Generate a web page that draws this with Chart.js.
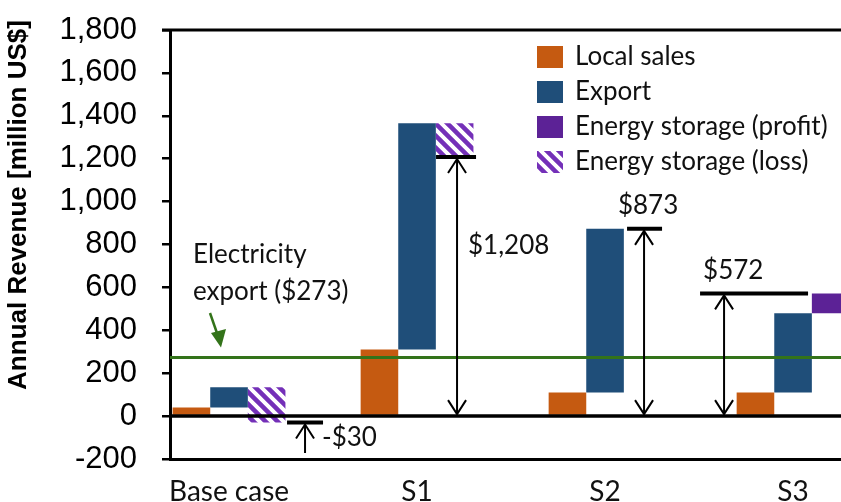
<!DOCTYPE html>
<html>
<head>
<meta charset="utf-8">
<script src="https://cdn.jsdelivr.net/npm/chart.js@4"></script>
<style>
  html, body { margin: 0; padding: 0; background: #fff; }
  #wrap { width: 841px; height: 502px; position: relative; overflow: hidden; }
</style>
</head>
<body>
<div id="wrap"><canvas id="revenueChart" width="841" height="502"></canvas></div>
<script>
// annual revenue, million US$ (waterfall steps per scenario)
const categories = ['Base case', 'S1', 'S2', 'S3'];
const localSales = [40, 310, 110, 110];
const exportRevenue = [95, 1055, 763, 370];
const storageResult = [-165, -157, 0, 92]; // + profit / - loss
const electricityExport = 273;
const yMin = -200, yMax = 1800, yStep = 200;

const totals = categories.map((_, i) => localSales[i] + exportRevenue[i] + storageResult[i]);

const COLORS = {
    local: '#C55A11',
    export: '#1F4E79',
    storage: '#5C2296',
    green: '#33731A'
};

function makeHatch(color) {
    const size = 12;
    const c = document.createElement('canvas');
    c.width = size; c.height = size;
    const g = c.getContext('2d');
    g.strokeStyle = color;
    g.lineWidth = 4.5;
    g.beginPath();
    for (let k = -1; k <= 1; k++) {
        g.moveTo(k * size - 2, -2);
        g.lineTo(k * size + size + 2, size + 2);
    }
    g.stroke();
    return g.createPattern(c, 'repeat');
}
const hatch = makeHatch('#7430B8');

// floating bars built from the step values
const localBars = localSales.map((v, i) => ({ x: i, y: [0, v] }));
const exportBars = exportRevenue.map((v, i) => ({ x: i, y: [localSales[i], localSales[i] + v] }));
function storageBars(sign) {
    const out = [];
    storageResult.forEach((v, i) => {
        if (v * sign <= 0) return;
        const base = localSales[i] + exportRevenue[i];
        out.push({ x: i, y: [base, base + v] });
    });
    return out;
}

// where the total markers sit around each group (pixel offsets from the category centre)
const markers = [
    { arrow: 76, capFrom: 58, capTo: 94, single: true, label: { dx: 93, dy: 15, align: 'left' } },
    { arrow: 40, capFrom: 19, capTo: 59, label: { dx: 51, dy: 89, align: 'left' } },
    { arrow: 39, capFrom: 22, capTo: 57, label: { dx: 43, dy: -23, align: 'center' } },
    { arrow: -69, capFrom: -93, capTo: 15, label: { dx: -90, dy: -23, align: 'left' } }
];

function fmtMoney(v) {
    return (v < 0 ? '-$' : '$') + Math.abs(v).toLocaleString('en-US');
}

function head(ctx, x, y, dir) {
    // dir = 1 -> pointing up, -1 -> pointing down
    ctx.beginPath();
    ctx.moveTo(x - 9, y + dir * 14);
    ctx.lineTo(x, y);
    ctx.lineTo(x + 9, y + dir * 14);
    ctx.stroke();
}

const overlayPlugin = {
    id: 'overlay',
    afterDatasetsDraw(chart) {
        const { ctx, chartArea: a, scales: { x, y } } = chart;
        ctx.save();
        // frame top
        ctx.strokeStyle = '#000';
        ctx.lineWidth = 3;
        ctx.beginPath();
        ctx.moveTo(a.left - 8, a.top);
        ctx.lineTo(a.right, a.top);
        ctx.stroke();
        // zero line
        ctx.lineWidth = 3.5;
        ctx.beginPath();
        ctx.moveTo(a.left, y.getPixelForValue(0));
        ctx.lineTo(a.right, y.getPixelForValue(0));
        ctx.stroke();
        // electricity export line
        const gy = y.getPixelForValue(electricityExport);
        ctx.strokeStyle = COLORS.green;
        ctx.lineWidth = 3;
        ctx.beginPath();
        ctx.moveTo(a.left, gy);
        ctx.lineTo(a.right, gy);
        ctx.stroke();
        // green pointer arrow
        ctx.lineWidth = 2.5;
        ctx.beginPath();
        ctx.moveTo(210, 313);
        ctx.lineTo(218, 336);
        ctx.stroke();
        ctx.fillStyle = COLORS.green;
        ctx.beginPath();
        ctx.moveTo(221, gy - 10);
        ctx.lineTo(211, 333);
        ctx.lineTo(226, 329);
        ctx.closePath();
        ctx.fill();

        ctx.fillStyle = '#111';
        ctx.font = '26px Lato';
        ctx.textBaseline = 'middle';
        ctx.textAlign = 'left';
        ctx.fillText('Electricity', 193, 255);
        ctx.fillText('export (' + fmtMoney(electricityExport) + ')', 193, 292);

        // total markers
        const zeroY = y.getPixelForValue(0);
        totals.forEach((t, i) => {
            const m = markers[i];
            const cx = x.getPixelForValue(i);
            const ty = y.getPixelForValue(t);
            ctx.strokeStyle = '#000';
            ctx.lineWidth = 4;
            ctx.beginPath();
            ctx.moveTo(cx + m.capFrom, ty);
            ctx.lineTo(cx + m.capTo, ty);
            ctx.stroke();
            ctx.lineWidth = 2;
            const ax = cx + m.arrow;
            if (m.single) {
                const by = y.getPixelForValue(yMin) - 6;
                ctx.beginPath();
                ctx.moveTo(ax, by);
                ctx.lineTo(ax, ty + 2);
                ctx.stroke();
                head(ctx, ax, ty + 2, 1);
            } else {
                ctx.beginPath();
                ctx.moveTo(ax, ty + 2);
                ctx.lineTo(ax, zeroY - 2);
                ctx.stroke();
                head(ctx, ax, ty + 2, 1);
                head(ctx, ax, zeroY - 2, -1);
            }
            ctx.fillStyle = '#111';
            ctx.textAlign = m.label.align;
            ctx.fillText(fmtMoney(t), cx + m.label.dx, ty + m.label.dy);
        });
        ctx.restore();
    },
    afterDraw(chart) {
        const ctx = chart.ctx;
        ctx.save();
        // legend
        ctx.font = '26px Lato';
        ctx.textBaseline = 'middle';
        ctx.textAlign = 'left';
        chart.data.datasets.forEach((ds, i) => {
            const ly = 57 + i * 35;
            ctx.fillStyle = ds.backgroundColor;
            ctx.fillRect(537, ly - 11, 26, 22);
            ctx.fillStyle = '#111';
            ctx.fillText(ds.label, 575, ly);
        });
        // y title
        ctx.translate(19, 205);
        ctx.rotate(-Math.PI / 2);
        ctx.textAlign = 'center';
        ctx.fillStyle = '#000';
        ctx.font = 'bold 26px "Liberation Sans", Arial';
        ctx.fillText('Annual Revenue [million US$]', 0, 0);
        ctx.restore();
    }
};

new Chart(document.getElementById('revenueChart'), {
    type: 'bar',
    data: {
        datasets: [
            { label: 'Local sales', data: localBars, backgroundColor: COLORS.local, stack: 'a' },
            { label: 'Export', data: exportBars, backgroundColor: COLORS.export, stack: 'b' },
            { label: 'Energy storage (profit)', data: storageBars(1), backgroundColor: COLORS.storage, stack: 'c' },
            { label: 'Energy storage (loss)', data: storageBars(-1), backgroundColor: hatch, stack: 'c' }
        ]
    },
    options: {
        responsive: false,
        animation: false,
        devicePixelRatio: 1,
        layout: { autoPadding: false, padding: { top: 30, left: 0, right: 0, bottom: 0 } },
        categoryPercentage: 0.6,
        barPercentage: 1.0,
        borderWidth: 0,
        plugins: { legend: { display: false }, tooltip: { enabled: false } },
        scales: {
            x: {
                type: 'linear',
                offset: false,
                min: -0.314,
                max: 3.255,
                grid: { display: false },
                border: { display: true, color: '#000', width: 3 },
                ticks: {
                    stepSize: 1,
                    includeBounds: false,
                    padding: 8,
                    maxRotation: 0,
                    color: '#111',
                    font: { family: 'Lato', size: 28 },
                    callback: v => categories[v] ?? ''
                },
                afterFit: s => { s.height = 43; s.paddingLeft = 0; s.paddingRight = 0; }
            },
            y: {
                stacked: false,
                min: yMin,
                max: yMax,
                ticks: {
                    stepSize: yStep,
                    padding: 25,
                    color: '#000',
                    font: { family: '"Liberation Sans", Arial', size: 31 },
                    callback: v => v.toLocaleString('en-US')
                },
                grid: { drawOnChartArea: false, drawTicks: true, tickLength: 8, color: '#000', lineWidth: 2.5 },
                border: { color: '#000', width: 3 },
                afterFit: s => { s.width = 170; s.paddingTop = 0; s.paddingBottom = 0; }
            }
        }
    },
    plugins: [overlayPlugin]
});
</script>
</body>
</html>
